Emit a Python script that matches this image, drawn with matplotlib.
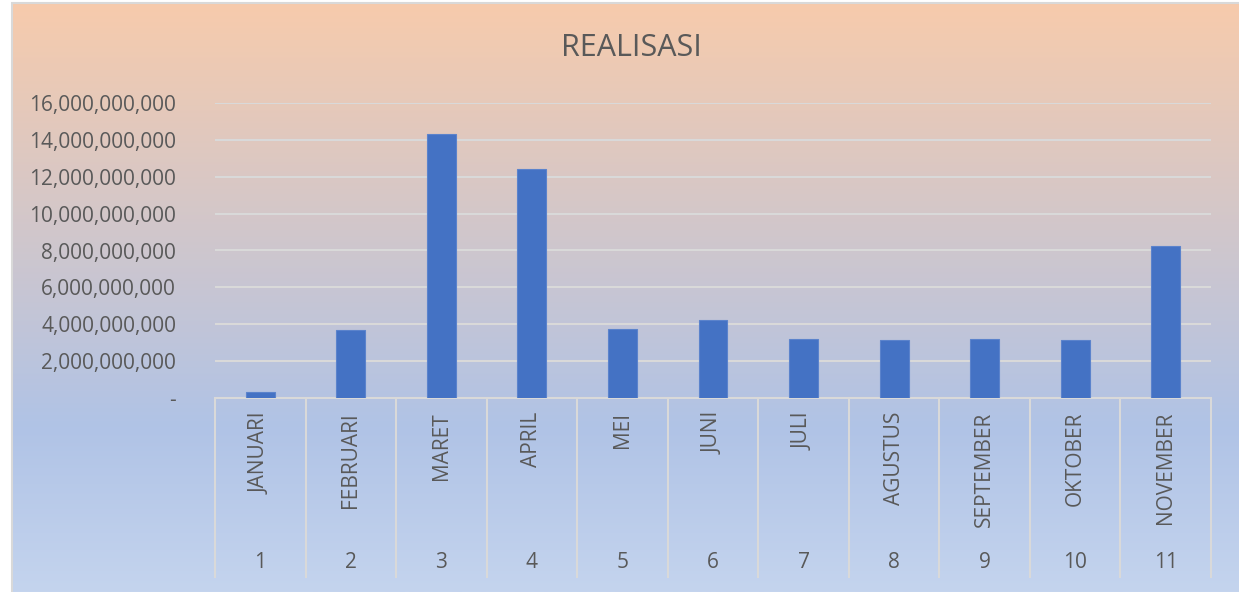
import numpy as np
import matplotlib
matplotlib.use("Agg")
import matplotlib.pyplot as plt
from matplotlib.colors import LinearSegmentedColormap
from matplotlib.patches import Rectangle
from matplotlib.ticker import FuncFormatter

# data
months = ["JANUARI", "FEBRUARI", "MARET", "APRIL", "MEI", "JUNI",
          "JULI", "AGUSTUS", "SEPTEMBER", "OKTOBER", "NOVEMBER"]
numbers = [str(i) for i in range(1, 12)]
realisasi = [0.35e9, 3.70e9, 14.30e9, 12.42e9, 3.74e9, 4.23e9,
             3.18e9, 3.13e9, 3.20e9, 3.16e9, 8.24e9]
y_ticks = [0, 2e9, 4e9, 6e9, 8e9, 10e9, 12e9, 14e9, 16e9]

plt.rcParams['font.family'] = ['Open Sans', 'DejaVu Sans']
text_col = '#595959'
grid_col = '#D9D9D9'

W, H = 1239, 592
fig = plt.figure(figsize=(W / 100, H / 100), dpi=100)
fig.patch.set_facecolor('white')

# gradient background of the chart area
bg = fig.add_axes([12 / W, 0, 1 - 12 / W, 1 - 3 / H])
cmap = LinearSegmentedColormap.from_list(
    'bg', [(0.0, (247/255, 203/255, 172/255)),
           (0.72, (176/255, 195/255, 230/255)),
           (1.0, (196/255, 212/255, 238/255))])
grad = np.linspace(0, 1, 256).reshape(-1, 1)
bg.imshow(grad, aspect='auto', cmap=cmap, extent=[0, 1, 0, 1], origin='upper')
bg.set_xlim(0, 1)
bg.set_ylim(0, 1)
bg.axis('off')
fig.patches.append(Rectangle((12 / W, -0.01), 1.0, 1 - 3 / H + 0.01,
                             transform=fig.transFigure, fill=False,
                             edgecolor=grid_col, lw=1.5, zorder=5))

# main plot
ax = fig.add_axes([215 / W, (H - 398) / H, (1211 - 215) / W, (398 - 103) / H])
ax.patch.set_alpha(0)
x = np.arange(len(months))
ax.bar(x, realisasi, width=0.32, color='#4472C4', edgecolor='#5B83CC',
       linewidth=0.8, zorder=3)
ax.set_xlim(-0.5, len(months) - 0.5)
ax.set_ylim(0, 16e9)
ax.set_yticks(y_ticks)
ax.yaxis.set_major_formatter(FuncFormatter(
    lambda v, p: '-' if v == 0 else f'{v:,.0f}'))
ax.tick_params(axis='y', length=0, pad=28, labelsize=15, labelcolor=text_col)
ax.set_xticks([])
ax.grid(axis='y', color=grid_col, lw=1.5, zorder=0)
for s in ['top', 'right', 'left']:
    ax.spines[s].set_visible(False)
ax.spines['bottom'].set_color(grid_col)
ax.spines['bottom'].set_linewidth(1.5)

# two-level category axis
tr = ax.get_xaxis_transform()
ah = 398 - 103
ax.vlines(np.arange(len(months) + 1) - 0.5, -180 / ah, 0, transform=tr,
          colors=grid_col, lw=1.5, clip_on=False)
for xi, m, n in zip(x, months, numbers):
    ax.text(xi, -14 / ah, m, transform=tr, rotation=90, ha='center', va='top',
            fontsize=15, color=text_col)
    ax.text(xi, -165 / ah, n, transform=tr, ha='center', va='center',
            fontsize=15, color=text_col)

fig.text(631 / W, 1 - 48 / H, 'REALISASI', ha='center', va='center',
         fontsize=22, color=text_col)

fig.savefig('out.png', dpi=100)
